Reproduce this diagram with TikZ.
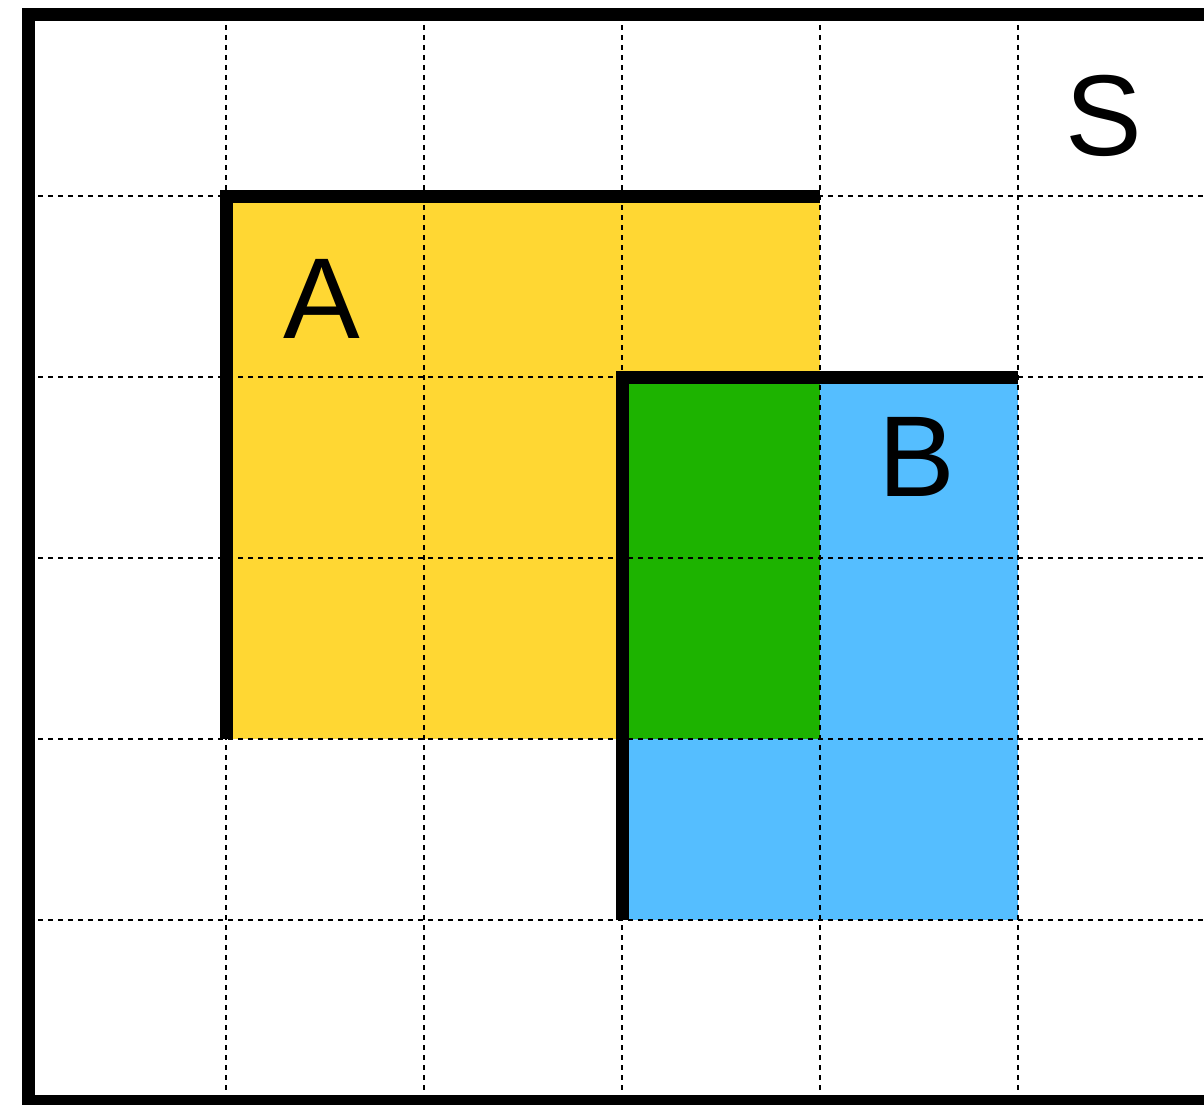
\documentclass[tikz,border=0pt]{standalone}
\usepackage{fontspec}
\setmainfont{Liberation Sans}
\definecolor{ayellow}{HTML}{FFD733}
\definecolor{bblue}{HTML}{55BEFF}
\definecolor{abgreen}{HTML}{1DB300}
\begin{document}
\begin{tikzpicture}[x=1pt,y=-1pt,
  gridline/.style={line width=2.5pt,dash pattern=on 5pt off 5pt},
  thickline/.style={line width=13pt,line join=miter},
  lbl/.style={font=\fontsize{115}{120}\selectfont,inner sep=0pt}]
\useasboundingbox (0,0) rectangle (1204,1105);
\clip (0,0) rectangle (1204,1105);
% fills
\fill[ayellow] (226,196) rectangle (820,739);
\fill[bblue] (622,377) rectangle (1018,920);
\fill[abgreen] (622,377) rectangle (820,739);
% grid
\foreach \x in {226,424,622,820,1018}
  \draw[gridline] (\x,15) -- (\x,1101);
\foreach \y in {196,377,558,739,920}
  \draw[gridline] (28,\y) -- (1204,\y);
% outer border S
\draw[line width=13pt] (28.5,14.5) rectangle (1216,1101);
% thick edges
\draw[thickline] (226,739) -- (226,196) -- (820,196);
\draw[thickline] (622,920) -- (622,377) -- (1018,377);
% labels
\node[lbl] (labelS) at (1104,116) {S};
\node[lbl] (labelA) at (322,299) {A};
\node[lbl] (labelB) at (917,457) {B};
\end{tikzpicture}
\end{document}
